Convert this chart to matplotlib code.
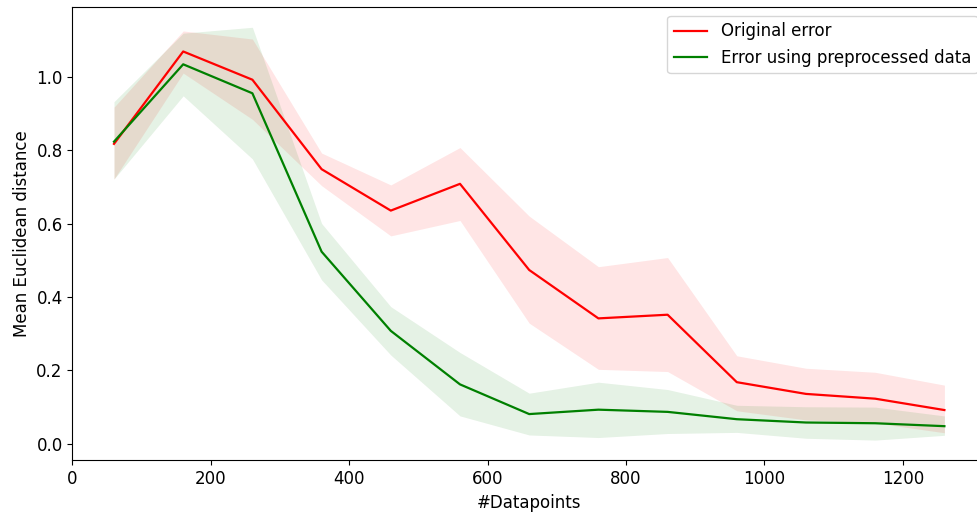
import numpy as np
import matplotlib
matplotlib.use("Agg")
import matplotlib.pyplot as plt

datapoints = [60, 160, 260, 360, 460, 560, 660, 760, 860, 960, 1060, 1160, 1260]

orig_mean = [0.818, 1.070, 0.993, 0.749, 0.636, 0.709, 0.474, 0.342, 0.352, 0.168, 0.136, 0.123, 0.092]
orig_upper = [0.918, 1.126, 1.104, 0.793, 0.706, 0.808, 0.621, 0.483, 0.508, 0.240, 0.206, 0.195, 0.160]
orig_lower = [0.722, 1.011, 0.885, 0.704, 0.567, 0.609, 0.329, 0.203, 0.197, 0.090, 0.065, 0.057, 0.030]

prep_mean = [0.824, 1.035, 0.956, 0.524, 0.308, 0.162, 0.081, 0.093, 0.087, 0.067, 0.058, 0.056, 0.048]
prep_upper = [0.933, 1.120, 1.136, 0.601, 0.374, 0.249, 0.138, 0.168, 0.148, 0.105, 0.101, 0.100, 0.076]
prep_lower = [0.722, 0.949, 0.777, 0.447, 0.242, 0.076, 0.024, 0.017, 0.028, 0.031, 0.015, 0.010, 0.023]

plt.rcParams['font.size'] = 12

fig = plt.figure(figsize=(9.78, 5.16), dpi=100)
ax = fig.add_axes([0.0741, 0.108, 0.934, 0.8775])

ax.plot(datapoints, orig_mean, color='red', lw=1.6, label='Original error')
ax.fill_between(datapoints, orig_lower, orig_upper, color='red', alpha=0.1, lw=0)
ax.plot(datapoints, prep_mean, color='green', lw=1.6, label='Error using preprocessed data')
ax.fill_between(datapoints, prep_lower, prep_upper, color='green', alpha=0.1, lw=0)

ax.set_xlim(0, 1320)
ax.set_ylim(-0.045, 1.19)
ax.set_xlabel('#Datapoints')
ax.set_ylabel('Mean Euclidean distance')
ax.legend(loc='upper right')

fig.savefig('out.png', dpi=100)
